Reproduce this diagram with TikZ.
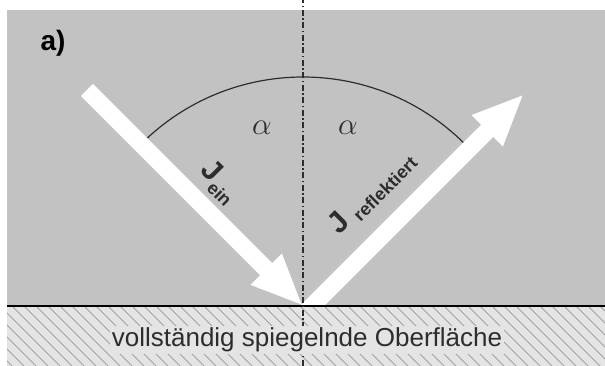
\documentclass[tikz,border=0pt]{standalone}
\usepackage{graphicx}
\usepackage{fontspec}
\setmainfont{Liberation Sans}
\usetikzlibrary{arrows.meta}
\definecolor{wallgray}{RGB}{194,194,194}
\definecolor{floorgray}{RGB}{228,228,228}
\definecolor{hatchgray}{RGB}{160,160,160}
\definecolor{inkgray}{RGB}{45,45,45}

\begin{document}
\begin{tikzpicture}[x=1pt, y=1pt,
    beam/.style={line width=17pt, white, -{Triangle[length=52pt, width=40pt]}},
    axisline/.style={inkgray, line width=1.2pt, dash pattern=on 6pt off 2.5pt on 1.5pt off 2.5pt},
    sym/.style={text=inkgray, font=\fontsize{24}{24}\selectfont},
    jlabel/.style={text=inkgray, font=\fontsize{30}{30}\selectfont\bfseries, inner sep=0pt, anchor=base west}]

  \useasboundingbox (0, 0) rectangle (605, 366);
  \fill[white] (0, 0) rectangle (605, 366);

  \fill[wallgray] (7, 60) rectangle (605, 356);
  \fill[floorgray] (7, 0) rectangle (605, 60);
  \begin{scope}
    \clip (7, 0) rectangle (605, 60);
    \foreach \x in {-60, -48, ..., 605}
      \draw[hatchgray, line width=0.8pt] (\x, 60) -- (\x + 60, 0);
  \end{scope}

  \coordinate (O) at (303, 60);
  \coordinate (inStart) at (87, 276);
  \coordinate (outStart) at (306, 54);
  \coordinate (outTip) at (524, 272);
  \coordinate (axisBot) at (303, 0);
  \coordinate (axisTop) at (303, 366);

  \draw[inkgray, line width=1.2pt] (O) ++(45:229) arc[start angle=45, end angle=135, radius=229];

  \begin{scope}
    \clip (7, 60) rectangle (605, 366);
    \draw[beam] (inStart) -- (O);
    \draw[beam] (outStart) -- (outTip);
  \end{scope}

  \draw[black, line width=2pt] (7, 60) -- (605, 60);
  \draw[axisline] (axisBot) -- (axisTop);

  \node[font=\fontsize{28}{28}\selectfont\bfseries] (tag) at (53, 323) {a)};

  \node[sym] (alphaIn) at (262, 238) {\scalebox{1.25}{$\alpha$}};
  \node[sym] (alphaOut) at (348, 238) {\scalebox{1.25}{$\alpha$}};

  \node[jlabel, rotate=-45] (jIn) at (199.5, 194.3)
    {J\raisebox{-7.7pt}{\fontsize{18}{18}\selectfont ein}};
  \node[jlabel, rotate=45] (jOut) at (339.7, 130.5)
    {J\hspace{7pt}\raisebox{-5.7pt}{\fontsize{18}{18}\selectfont reflektiert}};

  \node[fill=floorgray, text=inkgray, font=\fontsize{26}{26}\selectfont, inner sep=2pt] (surface) at (307, 26)
    {vollständig spiegelnde Oberfläche};

\end{tikzpicture}
\end{document}
